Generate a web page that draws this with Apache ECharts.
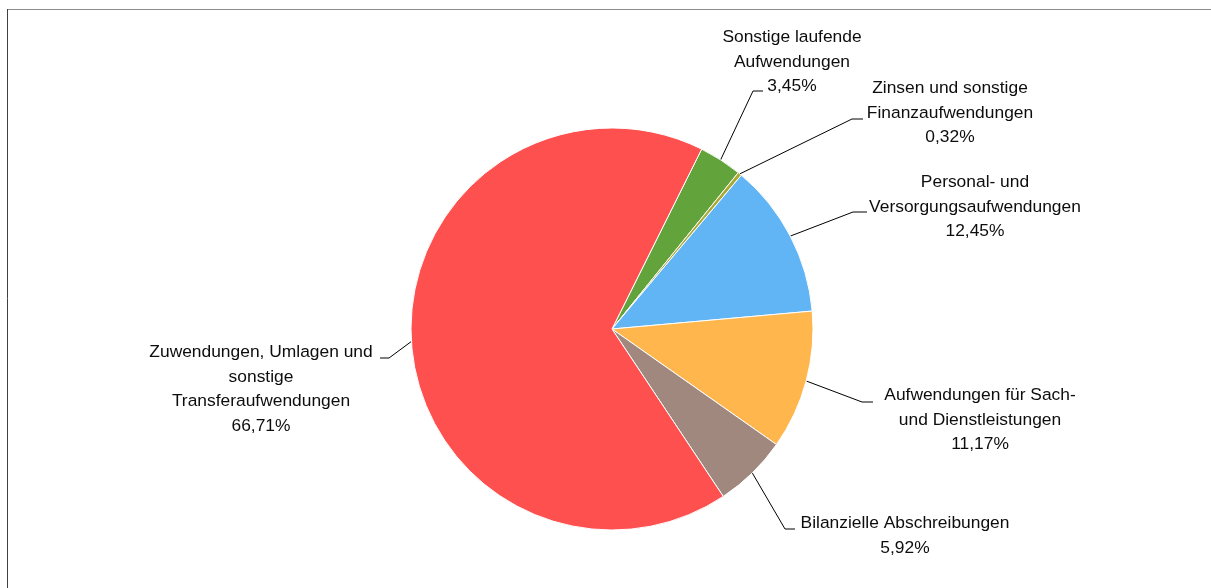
<!DOCTYPE html>
<html>
<head>
<meta charset="utf-8">
<script src="https://cdn.jsdelivr.net/npm/echarts@6/dist/echarts.min.js"></script>
<style>
html,body{margin:0;padding:0;background:#fff;}
#chart{width:1211px;height:588px;}
</style>
</head>
<body>
<div id="chart"></div>
<script>
// ---- data ----
const categories = [
  'Sonstige laufende\nAufwendungen',
  'Zinsen und sonstige\nFinanzaufwendungen',
  'Personal- und\nVersorgungsaufwendungen',
  'Aufwendungen für Sach-\nund Dienstleistungen',
  'Bilanzielle Abschreibungen',
  'Zuwendungen, Umlagen und\nsonstige\nTransferaufwendungen'
];
const shares = [3.45, 0.32, 12.45, 11.17, 5.92, 66.71];
const colors = ['#63a33c', '#a9a935', '#62b5f5', '#ffb74d', '#a1887f', '#ff5050'];

// ---- label layout (text block centre x, top y; elbow point; end point) ----
const labelLayoutCfg = [
  {x: 792, y: 25, elbow: [753, 91], end: [763, 91]},
  {x: 950, y: 76, elbow: [852, 119], end: [863, 119]},
  {x: 975, y: 170, elbow: [853, 212], end: [867, 212]},
  {x: 980, y: 383, elbow: [862, 402], end: [873, 402]},
  {x: 905, y: 511, elbow: [785, 529], end: [795, 529]},
  {x: 261, y: 340, elbow: [389, 358], end: [380, 358]}
];

const chart = echarts.init(document.getElementById('chart'), null, {renderer: 'canvas'});
const option = {
  animation: false,
  backgroundColor: '#ffffff',
  graphic: [
    {type: 'line', shape: {x1: 7, y1: 9.5, x2: 1211, y2: 9.5}, style: {stroke: '#8c8c8c', lineWidth: 1}},
    {type: 'line', shape: {x1: 7.5, y1: 9, x2: 7.5, y2: 588}, style: {stroke: '#404040', lineWidth: 1}}
  ],
  series: [{
    type: 'pie',
    center: [612, 329],
    radius: 201,
    startAngle: 63.5,
    clockwise: true,
    avoidLabelOverlap: false,
    silent: true,
    itemStyle: {borderColor: '#ffffff', borderWidth: 1},
    label: {
      show: true,
      position: 'outside',
      color: '#0d0d0d',
      fontFamily: 'Liberation Sans, Arial, sans-serif',
      fontSize: 17.4,
      lineHeight: 24.5,
      formatter: function (p) {
        return p.name + '\n' + p.value.toFixed(2).replace('.', ',') + '%';
      }
    },
    labelLine: {show: true, length: 20, length2: 10, lineStyle: {color: '#000', width: 1}},
    labelLayout: function (params) {
      const c = labelLayoutCfg[params.dataIndex];
      const p0 = params.labelLinePoints ? params.labelLinePoints[0] : c.elbow;
      return {
        x: c.x,
        y: c.y,
        align: 'center',
        verticalAlign: 'top',
        labelLinePoints: [p0, c.elbow, c.end]
      };
    },
    data: categories.map(function (name, i) {
      return {name: name, value: shares[i], itemStyle: {color: colors[i]}};
    })
  }]
};
chart.setOption(option);
</script>
</body>
</html>
